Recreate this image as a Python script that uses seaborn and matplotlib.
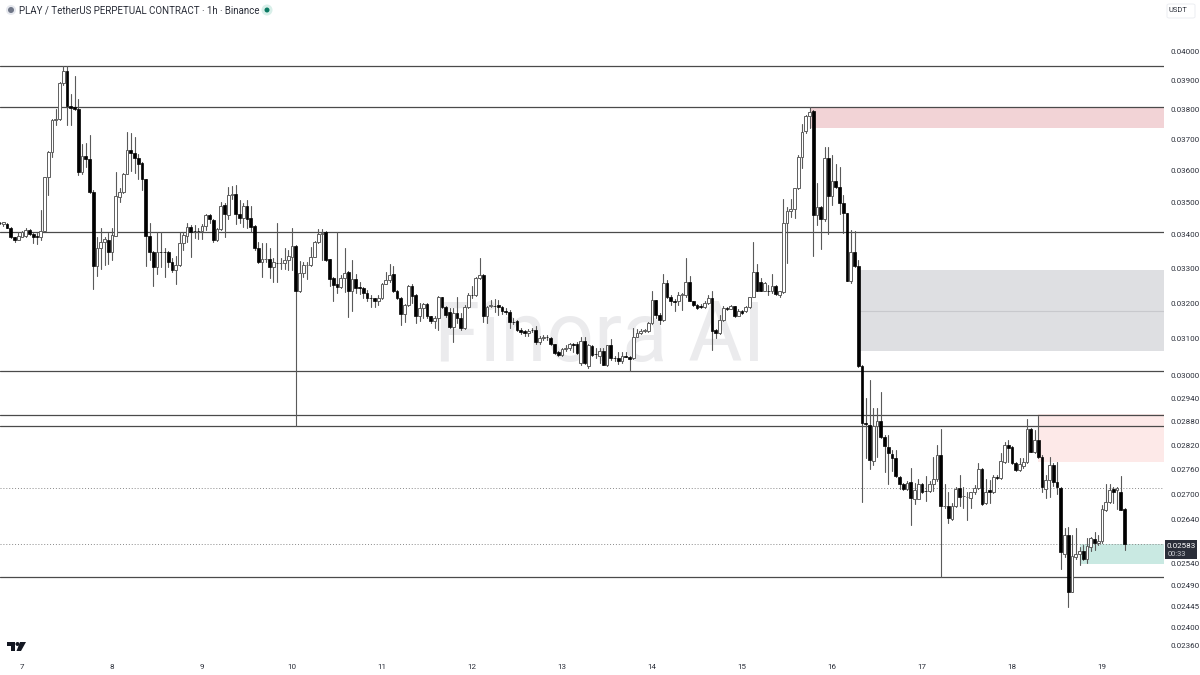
import numpy as np
import pandas as pd
import matplotlib
matplotlib.use('Agg')
import matplotlib.pyplot as plt
from matplotlib.patches import FancyBboxPatch, Rectangle, Polygon, Ellipse
from matplotlib.ticker import FixedLocator, FixedFormatter, NullLocator
import seaborn as sns

# prices in 1e-5 USDT, one candle per hour, hour 0 = midnight of day 7
first_hour = -6
opens = [
    3436,3433,3432,3422,3393,3385,3395,3397,3414,3403, 3397,3393,3413,3580,3660,3765,3770,3890,3932,3812,
    3808,3801,3597,3648,3637,3532,3307,3362,3380,3385, 3348,3398,3518,3533,3590,3668,3656,3640,3625,3572,
    3398,3348,3305,3350,3350,3348,3320,3295,3310,3377, 3398,3423,3413,3413,3412,3428,3460,3444,3385,3417,
    3493,3460,3522,3527,3464,3453,3487,3452,3427,3360, 3320,3328,3329,3305,3316,3315,3315,3325,3335,3367,
    3236,3286,3310,3310,3335,3378,3403,3409,3327,3272, 3255,3247,3273,3290,3236,3270,3245,3244,3230,3215,
    3214,3207,3216,3256,3266,3284,3235,3215,3170,3195, 3248,3222,3165,3185,3197,3163,3149,3158,3217,3189,
    3175,3133,3171,3158,3130,3188,3223,3223,3272,3282, 3163,3191,3193,3194,3189,3177,3176,3148,3150,3125,
    3122,3115,3125,3125,3092,3102,3106,3103,3085,3064, 3056,3072,3074,3085,3087,3034,3095,3025,3081,3060,
    3052,3066,3030,3082,3048,3047,3041,3052,3050,3048, 3106,3116,3123,3123,3144,3208,3167,3153,3258,3219,
    3205,3205,3224,3224,3260,3205,3195,3191,3189,3200, 3216,3125,3116,3153,3186,3184,3191,3163,3179,3177,
    3189,3217,3291,3260,3236,3236,3234,3250,3224,3231, 3437,3473,3478,3545,3645,3730,3780,3796,3462,3485,
    3447,3640,3520,3568,3548,3497,3466,3264,3348,3306, 3025,2876,2871,2782,2868,2882,2841,2816,2798,2790,
    2742,2725,2713,2729,2689,2689,2725,2709,2709,2726, 2737,2797,2673,2673,2642,2672,2715,2697,2694,2691,
    2705,2715,2762,2680,2711,2705,2743,2739,2780,2821, 2816,2776,2760,2770,2778,2862,2805,2834,2791,2713,
    2734,2771,2730,2715,2561,2605,2477,2555,2562,2568, 2549,2578,2595,2586,2590,2664,2681,2713,2711,2705,2665,
]
highs = [
    3440,3440,3436,3425,3395,3410,3413,3420,3417,3407, 3405,3477,3580,3662,3770,3803,3895,3950,3950,3855,
    3915,3838,3685,3690,3715,3540,3395,3420,3395,3405, 3420,3597,3546,3592,3725,3722,3710,3653,3628,3574,
    3435,3352,3410,3410,3360,3352,3330,3336,3410,3410, 3437,3430,3430,3420,3433,3463,3465,3447,3420,3500,
    3497,3548,3552,3553,3507,3497,3507,3487,3430,3380, 3375,3375,3360,3330,3437,3330,3360,3355,3420,3370,
    3323,3320,3320,3365,3382,3417,3417,3411,3329,3274, 3410,3281,3360,3292,3325,3283,3262,3247,3238,3222,
    3216,3222,3258,3290,3314,3306,3238,3218,3197,3253, 3255,3225,3200,3200,3200,3165,3163,3221,3219,3192,
    3187,3187,3219,3173,3195,3228,3250,3275,3330,3283, 3192,3210,3212,3210,3192,3185,3180,3158,3152,3129,
    3125,3127,3130,3137,3109,3111,3112,3106,3087,3067, 3076,3082,3088,3088,3092,3105,3105,3086,3084,3074,
    3074,3074,3084,3099,3052,3064,3065,3064,3052,3130, 3127,3127,3127,3146,3234,3210,3172,3283,3268,3224,
    3212,3231,3229,3330,3278,3207,3198,3198,3205,3224, 3234,3127,3167,3191,3189,3195,3193,3183,3181,3193,
    3219,3380,3313,3272,3260,3253,3283,3253,3236,3509, 3485,3510,3545,3650,3752,3783,3808,3800,3560,3487,
    3677,3677,3650,3620,3612,3524,3468,3415,3412,3326, 3028,2941,2989,2915,2915,2957,2847,2847,2809,2809,
    2745,2728,2733,2765,2727,2737,2728,2744,2732,2791, 2822,2861,2724,2707,2680,2717,2746,2719,2707,2707,
    2722,2777,2764,2737,2735,2748,2746,2801,2829,2835, 2819,2779,2789,2789,2886,2864,2860,2895,2797,2748,
    2791,2777,2779,2717,2620,2622,2605,2620,2578,2581, 2597,2601,2612,2605,2675,2726,2726,2717,2719,2745,2667,
]
lows = [
    3432,3428,3420,3390,3380,3385,3393,3395,3400,3377, 3373,3385,3411,3522,3645,3750,3765,3885,3750,3750,
    3800,3586,3590,3610,3530,3240,3277,3298,3310,3313, 3325,3396,3500,3530,3588,3600,3592,3572,3540,3308,
    3325,3250,3285,3305,3275,3305,3290,3255,3308,3355, 3380,3335,3390,3388,3388,3415,3436,3380,3381,3415,
    3395,3450,3510,3432,3435,3425,3422,3410,3355,3315, 3275,3320,3273,3260,3260,3300,3300,3295,3295,2868,
    3233,3276,3270,3308,3333,3375,3325,3323,3248,3205, 3230,3243,3232,3160,3178,3228,3225,3214,3207,3190,
    3190,3195,3213,3254,3261,3233,3212,3138,3148,3192, 3200,3144,3150,3158,3158,3144,3130,3125,3187,3160,
    3131,3091,3143,3125,3128,3186,3215,3221,3270,3148, 3145,3188,3174,3168,3170,3170,3131,3140,3123,3113,
    3108,3108,3118,3085,3085,3098,3098,3082,3060,3052, 3054,3068,3070,3065,3060,3030,3032,3021,3052,3048,
    3034,3028,3025,3043,3041,3032,3034,3050,3014,3045, 3104,3114,3120,3120,3142,3158,3142,3151,3214,3195,
    3177,3195,3181,3219,3205,3191,3183,3186,3186,3198, 3070,3102,3114,3151,3181,3183,3161,3163,3170,3175,
    3186,3217,3234,3234,3234,3224,3229,3224,3219,3229, 3317,3455,3452,3542,3607,3721,3738,3336,3429,3357,
    3441,3403,3492,3545,3464,3405,3263,3259,3304,3023, 2683,2789,2761,2772,2792,2839,2754,2726,2757,2742,
    2713,2711,2711,2628,2677,2688,2704,2684,2706,2709, 2732,2509,2667,2632,2640,2670,2672,2668,2640,2668,
    2700,2712,2675,2678,2680,2703,2737,2737,2776,2780, 2774,2756,2756,2764,2776,2803,2801,2789,2707,2691,
    2695,2721,2700,2526,2555,2444,2477,2549,2535,2547, 2541,2567,2570,2582,2587,2660,2680,2680,2665,2662,2569,
]
closes = [
    3435,3438,3422,3393,3385,3397,3408,3415,3403,3395, 3393,3413,3580,3660,3765,3770,3890,3932,3812,3805,
    3802,3597,3648,3637,3532,3307,3362,3380,3387,3348, 3400,3520,3533,3590,3668,3656,3640,3622,3572,3398,
    3348,3305,3348,3348,3349,3320,3295,3310,3375,3400, 3425,3410,3412,3412,3428,3460,3447,3385,3417,3490,
    3464,3522,3525,3464,3453,3487,3450,3423,3360,3320, 3328,3328,3305,3320,3315,3315,3325,3337,3367,3236,
    3286,3310,3311,3335,3378,3403,3405,3325,3270,3252, 3247,3273,3286,3236,3270,3243,3244,3230,3215,3214,
    3207,3216,3256,3266,3282,3235,3215,3170,3195,3248, 3220,3165,3185,3198,3163,3149,3158,3219,3189,3168,
    3133,3173,3158,3130,3190,3223,3222,3272,3280,3163, 3190,3195,3192,3189,3177,3176,3147,3147,3125,3120,
    3116,3122,3124,3092,3102,3106,3105,3085,3062,3056, 3072,3074,3085,3084,3062,3093,3034,3084,3057,3059,
    3068,3030,3082,3048,3047,3041,3052,3051,3045,3106, 3116,3123,3125,3144,3208,3167,3153,3258,3219,3205,
    3204,3224,3225,3260,3207,3195,3186,3190,3200,3214, 3123,3116,3153,3186,3184,3191,3163,3179,3172,3189,
    3217,3291,3236,3236,3258,3235,3250,3227,3234,3437, 3473,3478,3545,3645,3727,3780,3793,3462,3485,3447,
    3640,3520,3568,3548,3497,3466,3265,3348,3306,3025, 2876,2875,2785,2868,2882,2841,2819,2801,2789,2744,
    2726,2713,2728,2691,2711,2726,2707,2708,2726,2737, 2797,2673,2673,2644,2672,2713,2695,2697,2694,2705,
    2715,2762,2678,2707,2705,2742,2739,2782,2821,2813, 2776,2760,2774,2778,2862,2805,2834,2791,2717,2734,
    2771,2730,2717,2565,2605,2476,2557,2562,2568,2549, 2579,2597,2587,2591,2665,2681,2711,2707,2715,2664,2583,
]

solid_levels = [3950, 3808, 3408, 3013, 2898, 2868, 2509]
dotted_levels = [2716, 2583]
zone_starts = [210.4, 223.5, 271, 282]
zone_tops = [3808, 3296, 2899, 2583]
zone_bottoms = [3739, 3066, 2778, 2538]
zone_colors = ['#f2d3d6', '#dedfe2', '#fde9e8', '#c9e9e2']
gray_zone_mid = 3178

price_ticks = [4000, 3900, 3800, 3700, 3600, 3500, 3400, 3300, 3200, 3100, 3000, 2940, 2880,
               2820, 2760, 2700, 2640, 2540, 2490, 2445, 2400, 2360]
day_labels = ['7', '8', '9', '10', '11', '12', '13', '14', '15', '16', '17', '18', '19']

sns.set_theme(style="white")
plt.rcParams['font.family'] = ['Roboto', 'DejaVu Sans']

df = pd.DataFrame({'open': opens, 'high': highs, 'low': lows, 'close': closes}) / 1e5
df['hour'] = np.arange(len(df)) + first_hour
df['up'] = df['close'] >= df['open']

fig = plt.figure(figsize=(12, 6.75), dpi=100)
fig.patch.set_facecolor('white')
ax = fig.add_axes([0, 18 / 675, 1164 / 1200, 657 / 675])
ax.set_yscale('log')
ax.set_xlim(-22 / 3.75, (1164 - 22) / 3.75)
ax.set_ylim(0.02337, 0.04189)


def px(x, y):
    return x / 1200, 1 - y / 675


def dot(x, y, size, color):
    fig.add_artist(Ellipse(px(x, y), size / 1200, size / 675, transform=fig.transFigure,
                           facecolor=color, edgecolor='none'))


# zones
xmax = ax.get_xlim()[1]
for start, top, bottom, color in zip(zone_starts, zone_tops, zone_bottoms, zone_colors):
    ax.add_patch(Rectangle((start, bottom / 1e5), xmax - start, (top - bottom) / 1e5,
                           facecolor=color, edgecolor='none', zorder=1))
ax.hlines(gray_zone_mid / 1e5, zone_starts[1], xmax, color='#c8c9cd', lw=0.8, zorder=1.5)

# watermark
ax.text(600 / 1164, 1 - 338 / 657, 'Finora AI', transform=ax.transAxes, ha='center', va='center',
        fontsize=60, fontweight='normal', color='#ebebed', zorder=1.2)

# levels
for level in solid_levels:
    ax.axhline(level / 1e5, color='#4a4a4a', lw=0.9, zorder=2)
for level in dotted_levels:
    ax.axhline(level / 1e5, color='#8a8a8a', lw=0.7, ls=(0, (1, 2)), zorder=2)

# wicks with seaborn, one unit per candle
wicks = df.melt(id_vars='hour', value_vars=['high', 'low'], value_name='price')
sns.lineplot(data=wicks, x='hour', y='price', units='hour', estimator=None, sort=False,
             color='#5a5a5a', lw=0.8, ax=ax, zorder=3, legend=False)

body_low = df[['open', 'close']].min(axis=1)
body_high = df[['open', 'close']].max(axis=1)
up = df['up']
ax.bar(df.loc[up, 'hour'], (body_high - body_low)[up], bottom=body_low[up], width=0.68,
       facecolor='white', edgecolor='#5f5f5f', linewidth=0.7, zorder=4)
ax.bar(df.loc[~up, 'hour'], (body_high - body_low)[~up], bottom=body_low[~up], width=0.7,
       facecolor='black', edgecolor='black', linewidth=0.5, zorder=4)

# axes, price scale and days
for side in ax.spines.values():
    side.set_visible(False)
ax.set_xlabel('')
ax.set_ylabel('')
ax.patch.set_alpha(0)
ax.yaxis.tick_right()
ax.yaxis.set_major_locator(FixedLocator([p / 1e5 for p in price_ticks]))
ax.yaxis.set_major_formatter(FixedFormatter([f'{p / 1e5:.5f}' for p in price_ticks]))
ax.yaxis.set_minor_locator(NullLocator())
ax.tick_params(axis='y', length=0, pad=5, labelsize=5.8, labelcolor='#2a2e39')
ax.set_xticks([24 * n for n in range(len(day_labels))])
ax.set_xticklabels(day_labels)
ax.tick_params(axis='x', length=0, pad=5, labelsize=5.8, labelcolor='#2a2e39')

# header
fig.text(*px(19, 10), 'PLAY / TetherUS PERPETUAL CONTRACT · 1h · Binance', fontsize=7.0, color='#2a2e39',
         ha='left', va='center')
dot(11, 10, 10, '#e6e8ee')
dot(11, 10, 6, '#6f7687')
dot(267, 10, 11, '#d8efe9')
dot(267, 10, 5, '#0b7a63')

# USDT box
fig.add_artist(FancyBboxPatch(px(1167, 18), 28 / 1200, 14 / 675, transform=fig.transFigure,
                              boxstyle='round,pad=0,rounding_size=0.002', facecolor='white',
                              edgecolor='#eceef2', lw=0.7))
fig.text(*px(1177.5, 10.5), 'USDT', fontsize=5.4, color='#2a2e39', ha='center', va='center')

# last price tag
fig.add_artist(Rectangle(px(1165, 559), 32 / 1200, 19 / 675, transform=fig.transFigure,
                         facecolor='#2a2e39', edgecolor='none', zorder=5))
fig.text(*px(1181.5, 545.5), '0.02583', fontsize=5.8, color='white', ha='center', va='center', zorder=6)
fig.text(*px(1177, 554), '00:33', fontsize=5.4, color='#c8cad0', ha='center', va='center', zorder=6)

# TradingView mark
logo_shapes = [
    [(7, 642), (15, 642), (15, 651), (11, 651), (11, 646), (7, 646)],
    [(20, 642), (26, 642), (21, 651), (16.5, 651)],
]
for shape in logo_shapes:
    fig.add_artist(Polygon([px(*p) for p in shape], transform=fig.transFigure, facecolor='#131722', edgecolor='none'))
dot(17.5, 644, 4, '#131722')

plt.savefig('out.png', dpi=100)
